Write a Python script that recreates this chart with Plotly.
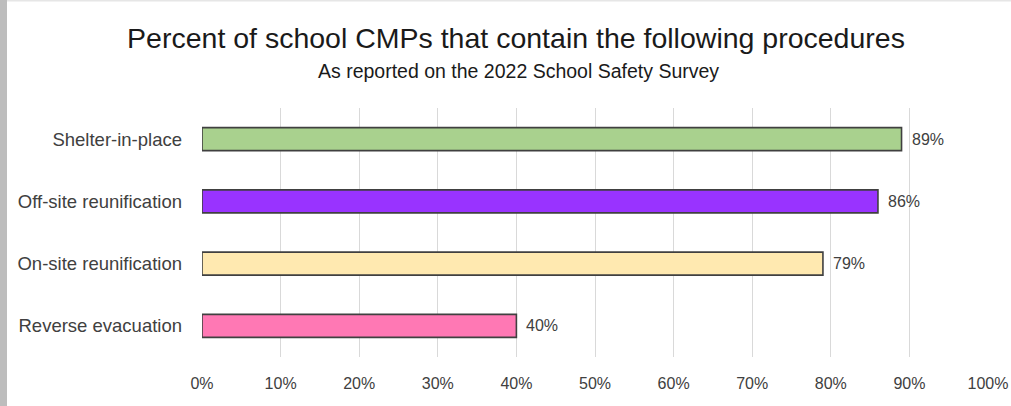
import plotly.graph_objects as go

categories = ["Shelter-in-place", "Off-site reunification", "On-site reunification", "Reverse evacuation"]
values = [89, 86, 79, 40]
colors = ["#a9d18e", "#9933ff", "#ffe9b0", "#ff78b4"]
tick_vals = [0, 10, 20, 30, 40, 50, 60, 70, 80, 90, 100]
tick_text = [f"{v}%" for v in tick_vals]

W, H = 1011, 406
ML, MR, MT, MB = 202, 23, 108, 49
FONT = "Liberation Sans, Arial, sans-serif"

fig = go.Figure()
fig.add_trace(go.Bar(
    x=values, y=categories, orientation="h",
    marker=dict(color=colors, line=dict(color="#404040", width=1.6)),
    hoverinfo="skip",
))

for c, v in zip(categories, values):
    fig.add_annotation(x=v, y=c, text=f"{v}%", xanchor="left", showarrow=False,
                       xshift=8, font=dict(family=FONT, size=16, color="#404040"))

pw = W - ML - MR
ph = H - MT - MB
# left gray border strip and top thin line (page decoration)
fig.add_shape(type="rect", xref="paper", yref="paper",
              x0=(0 - ML) / pw, x1=(7 - ML) / pw,
              y0=-(MB) / ph, y1=(H - MB) / ph,
              fillcolor="#bdbdbd", line=dict(width=0), layer="above")
fig.add_shape(type="rect", xref="paper", yref="paper",
              x0=(7 - ML) / pw, x1=(W - ML) / pw,
              y0=(H - MB - 1.5) / ph, y1=(H - MB) / ph,
              fillcolor="#e6e6e6", line=dict(width=0), layer="above")

fig.update_layout(
    width=W, height=H, autosize=False,
    margin=dict(l=ML, r=MR, t=MT, b=MB, pad=0, autoexpand=False),
    paper_bgcolor="white", plot_bgcolor="white",
    bargap=0.63,
    showlegend=False,
    font=dict(family=FONT, color="#404040"),
    title=dict(text="Percent of school CMPs that contain the following procedures",
               x=516 / W, xref="container", xanchor="center",
               y=1 - 38 / H, yref="container", yanchor="middle",
               font=dict(family=FONT, size=28.5, color="#1a1a1a")),
    xaxis=dict(range=[0, 100], tickvals=tick_vals, ticktext=tick_text,
               showgrid=True, gridcolor="#d9d9d9", gridwidth=1,
               zeroline=False, showline=False, ticks="", automargin=False,
               tickfont=dict(family=FONT, size=16, color="#404040"),
               ticklabelstandoff=15, fixedrange=True),
    yaxis=dict(categoryorder="array", categoryarray=categories, autorange="reversed",
               showgrid=False, zeroline=False, showline=False, ticks="", automargin=False,
               tickfont=dict(family=FONT, size=18.5, color="#404040"),
               ticklabelstandoff=19, fixedrange=True),
)
fig.add_annotation(text="As reported on the 2022 School Safety Survey",
                   xref="paper", yref="paper",
                   x=(518 - ML) / pw, y=(H - MB - 71) / ph,
                   xanchor="center", yanchor="middle", showarrow=False,
                   font=dict(family=FONT, size=19.5, color="#1a1a1a"))

fig.write_html("out.html", config={"displayModeBar": False, "responsive": False},
               post_script="document.body.style.margin='0';document.body.style.overflow='hidden';")
